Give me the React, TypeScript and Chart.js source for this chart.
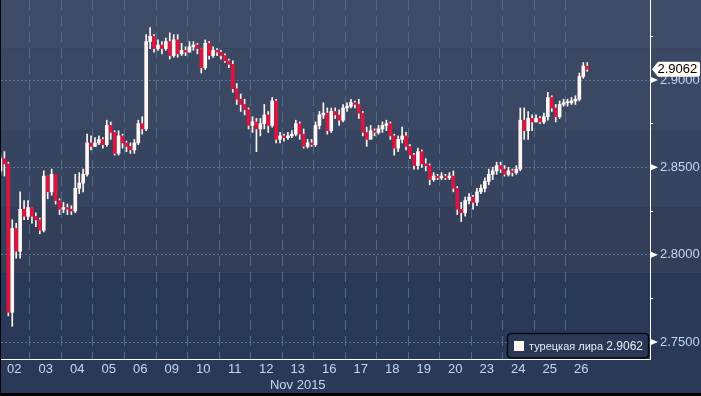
import { useEffect, useRef } from 'react';
import { Chart, registerables } from 'chart.js';

Chart.register(...registerables);

const dayLabels = ['02', '03', '04', '05', '06', '09', '10', '11', '12', '13', '16', '17', '18', '19', '20', '23', '24', '25', '26'];
const monthLabel = 'Nov 2015';
const seriesName = 'турецкая лира';
const lastValue = 2.9062;
const yMajorTicks = [2.75, 2.8, 2.85, 2.9];
const yMinorTicks = [2.775, 2.825, 2.875, 2.925];
const candlesPerDay = 8;
const firstOpen = 2.848;

const closes = [
  2.855, 2.852, 2.767, 2.815, 2.802, 2.826, 2.822, 2.827,
  2.822, 2.820, 2.814, 2.845, 2.836, 2.846, 2.831, 2.826,
  2.827, 2.826, 2.825, 2.838, 2.841, 2.846, 2.864, 2.862,
  2.864, 2.866, 2.863, 2.874, 2.870, 2.858, 2.868, 2.864,
  2.862, 2.860, 2.864, 2.875, 2.872, 2.922, 2.925, 2.918,
  2.920, 2.918, 2.922, 2.914, 2.923, 2.915, 2.917, 2.916,
  2.919, 2.920, 2.918, 2.907, 2.921, 2.914, 2.917, 2.916,
  2.914, 2.911, 2.909, 2.895, 2.889, 2.886, 2.883, 2.874,
  2.876, 2.872, 2.875, 2.880, 2.874, 2.888, 2.866, 2.868,
  2.867, 2.868, 2.869, 2.875, 2.869, 2.862, 2.864, 2.863,
  2.874, 2.880, 2.881, 2.871, 2.882, 2.880, 2.877, 2.884,
  2.885, 2.887, 2.886, 2.881, 2.870, 2.866, 2.871, 2.870,
  2.872, 2.874, 2.875, 2.868, 2.861, 2.866, 2.868, 2.862,
  2.857, 2.851, 2.859, 2.852, 2.851, 2.843, 2.845, 2.844,
  2.845, 2.844, 2.845, 2.838, 2.826, 2.824, 2.831, 2.833,
  2.830, 2.836, 2.838, 2.842, 2.846, 2.848, 2.851, 2.849,
  2.846, 2.848, 2.847, 2.849, 2.877, 2.871, 2.878, 2.876,
  2.878, 2.876, 2.879, 2.890, 2.884, 2.879, 2.886, 2.887,
  2.887, 2.888, 2.889, 2.902, 2.908, 2.9062,
];

const highs = [
  2.857, 2.859, 2.853, 2.820, 2.818, 2.836, 2.831, 2.831,
  2.827, 2.824, 2.821, 2.848, 2.845, 2.849, 2.846, 2.832,
  2.830, 2.829, 2.828, 2.846, 2.847, 2.849, 2.869, 2.868,
  2.867, 2.868, 2.867, 2.877, 2.876, 2.871, 2.871, 2.869,
  2.865, 2.864, 2.866, 2.877, 2.879, 2.926, 2.930, 2.926,
  2.923, 2.922, 2.924, 2.927, 2.926, 2.926, 2.921, 2.919,
  2.922, 2.922, 2.921, 2.918, 2.923, 2.922, 2.919, 2.918,
  2.917, 2.915, 2.912, 2.911, 2.898, 2.892, 2.889, 2.884,
  2.879, 2.878, 2.878, 2.886, 2.882, 2.890, 2.889, 2.870,
  2.869, 2.870, 2.871, 2.877, 2.876, 2.872, 2.866, 2.866,
  2.876, 2.882, 2.887, 2.884, 2.884, 2.884, 2.883, 2.886,
  2.887, 2.889, 2.888, 2.889, 2.882, 2.873, 2.874, 2.872,
  2.874, 2.876, 2.877, 2.876, 2.869, 2.868, 2.873, 2.870,
  2.863, 2.858, 2.861, 2.860, 2.855, 2.852, 2.847, 2.846,
  2.847, 2.846, 2.847, 2.848, 2.839, 2.830, 2.833, 2.835,
  2.834, 2.838, 2.840, 2.844, 2.849, 2.850, 2.853, 2.853,
  2.851, 2.850, 2.849, 2.851, 2.884, 2.884, 2.882, 2.880,
  2.880, 2.879, 2.881, 2.893, 2.891, 2.886, 2.888, 2.889,
  2.889, 2.890, 2.891, 2.904, 2.910, 2.910,
];

const lows = [
  2.846, 2.845, 2.765, 2.759, 2.798, 2.798, 2.820, 2.820,
  2.818, 2.816, 2.812, 2.813, 2.832, 2.834, 2.829, 2.823,
  2.824, 2.823, 2.823, 2.824, 2.835, 2.836, 2.845, 2.860,
  2.862, 2.863, 2.861, 2.862, 2.866, 2.857, 2.857, 2.861,
  2.859, 2.858, 2.858, 2.863, 2.869, 2.871, 2.918, 2.916,
  2.917, 2.915, 2.917, 2.912, 2.913, 2.913, 2.914, 2.914,
  2.916, 2.917, 2.915, 2.904, 2.906, 2.912, 2.913, 2.914,
  2.912, 2.910, 2.907, 2.893, 2.886, 2.882, 2.880, 2.872,
  2.870, 2.859, 2.868, 2.872, 2.870, 2.873, 2.864, 2.864,
  2.865, 2.866, 2.867, 2.868, 2.866, 2.861, 2.861, 2.862,
  2.862, 2.872, 2.878, 2.869, 2.870, 2.878, 2.874, 2.876,
  2.882, 2.884, 2.884, 2.878, 2.868, 2.862, 2.867, 2.868,
  2.869, 2.870, 2.871, 2.866, 2.857, 2.859, 2.864, 2.860,
  2.855, 2.849, 2.849, 2.850, 2.848, 2.840, 2.842, 2.843,
  2.843, 2.843, 2.843, 2.836, 2.823, 2.819, 2.822, 2.829,
  2.826, 2.828, 2.835, 2.836, 2.840, 2.843, 2.846, 2.847,
  2.845, 2.845, 2.845, 2.846, 2.848, 2.866, 2.866, 2.871,
  2.876, 2.875, 2.875, 2.877, 2.882, 2.876, 2.878, 2.885,
  2.885, 2.886, 2.886, 2.888, 2.901, 2.905,
];

const RED = '#e2123e';
const WHITE = '#fff6f2';
const LABEL = '#c2d6f2';
const FONT = '"Liberation Sans", Arial, sans-serif';

const isMajorY = (v: number) => yMajorTicks.some((t) => Math.abs(t - v) < 1e-7);
const isDayBoundary = (v: number) => Math.abs(((v + 0.5) / candlesPerDay) - Math.round((v + 0.5) / candlesPerDay)) < 1e-7;

const bgPlugin = {
  id: 'bgBands',
  beforeDraw(chart: any) {
    const { ctx, width, height } = chart;
    const y = chart.scales.y;
    ctx.save();
    ctx.fillStyle = '#000000';
    ctx.fillRect(0, 0, width, height);
    const cuts = [2.9183, 2.8714, 2.8273, 2.7895].map((v) => y.getPixelForValue(v));
    const edges = [0, ...cuts, 393];
    const colors = ['#3e4c68', '#3a4863', '#36445f', '#333f58', '#2b3958'];
    for (let i = 0; i < colors.length; i++) {
      ctx.fillStyle = colors[i];
      ctx.fillRect(1, edges[i], width - 1, edges[i + 1] - edges[i]);
    }
    ctx.restore();
  },
};

const overlayPlugin = {
  id: 'overlay',
  afterDraw(chart: any) {
    const { ctx, chartArea } = chart;
    const y = chart.scales.y;
    const x = chart.scales.x;
    ctx.save();
    // triangles at major ticks
    ctx.fillStyle = '#ffffff';
    for (const v of yMajorTicks) {
      const py = y.getPixelForValue(v);
      ctx.beginPath();
      ctx.moveTo(chartArea.right + 1, py - 3);
      ctx.lineTo(chartArea.right + 8, py);
      ctx.lineTo(chartArea.right + 1, py + 3);
      ctx.closePath();
      ctx.fill();
    }
    // last value box
    const py = y.getPixelForValue(lastValue);
    const tip = chartArea.right + 2;
    const top = py - 7.5;
    const bot = py + 7.5;
    ctx.beginPath();
    ctx.moveTo(tip, py);
    ctx.lineTo(tip + 6, top);
    ctx.lineTo(698, top);
    ctx.quadraticCurveTo(700, top, 700, top + 2);
    ctx.lineTo(700, bot - 2);
    ctx.quadraticCurveTo(700, bot, 698, bot);
    ctx.lineTo(tip + 6, bot);
    ctx.closePath();
    ctx.fillStyle = '#fffaf6';
    ctx.fill();
    ctx.fillStyle = '#000000';
    ctx.font = `13px ${FONT}`;
    ctx.textBaseline = 'middle';
    ctx.textAlign = 'left';
    ctx.fillText(lastValue.toFixed(4), tip + 5.5, py + 0.5);

    // legend box
    const lx = 507.5, ly = 333.5, lw = 141, lh = 24.5, r = 4;
    ctx.beginPath();
    ctx.moveTo(lx + r, ly);
    ctx.lineTo(lx + lw - r, ly);
    ctx.quadraticCurveTo(lx + lw, ly, lx + lw, ly + r);
    ctx.lineTo(lx + lw, ly + lh - r);
    ctx.quadraticCurveTo(lx + lw, ly + lh, lx + lw - r, ly + lh);
    ctx.lineTo(lx + r, ly + lh);
    ctx.quadraticCurveTo(lx, ly + lh, lx, ly + lh - r);
    ctx.lineTo(lx, ly + r);
    ctx.quadraticCurveTo(lx, ly, lx + r, ly);
    ctx.closePath();
    ctx.fillStyle = '#2a3755';
    ctx.fill();
    ctx.lineWidth = 1.5;
    ctx.strokeStyle = '#080a10';
    ctx.stroke();
    ctx.fillStyle = WHITE;
    ctx.fillRect(514, 341, 10, 10);
    ctx.fillStyle = '#e6ecf6';
    ctx.font = `11px ${FONT}`;
    ctx.textBaseline = 'middle';
    ctx.textAlign = 'left';
    ctx.fillText(seriesName, 529, 346.5);
    ctx.font = `12px ${FONT}`;
    ctx.textAlign = 'right';
    ctx.fillText(lastValue.toFixed(4), 643, 346.5);

    // month label
    ctx.fillStyle = LABEL;
    ctx.font = `13px ${FONT}`;
    ctx.textAlign = 'center';
    ctx.fillText(monthLabel, x.getPixelForValue((dayLabels.length * candlesPerDay) / 2 - 0.5), 385);
    ctx.restore();
  },
};

export default function App() {
  const ref = useRef<HTMLCanvasElement | null>(null);

  useEffect(() => {
    document.body.style.margin = '0';
    const canvas = ref.current;
    if (!canvas) return;

    const opens = closes.map((_, i) => (i === 0 ? firstOpen : closes[i - 1]));
    const bodies = closes.map((c, i) => ({ x: i, y: [opens[i], c] }));
    const wicks = closes.map((_, i) => ({ x: i, y: [lows[i], highs[i]] }));
    const bodyColors = closes.map((c, i) => (c < opens[i] ? RED : WHITE));

    const xTicks: number[] = [];
    for (let d = 0; d < dayLabels.length; d++) {
      if (d > 0) xTicks.push(d * candlesPerDay - 0.5);
      xTicks.push(d * candlesPerDay + candlesPerDay / 2 - 0.5);
    }
    const yTicks = [...yMajorTicks, ...yMinorTicks].sort((a, b) => a - b);

    const chart = new Chart(canvas, {
      type: 'bar',
      data: {
        datasets: [
          {
            label: 'body',
            data: bodies as any,
            backgroundColor: bodyColors,
            borderWidth: 0,
            barThickness: 3,
            minBarLength: 1,
            grouped: false,
            order: 0,
          },
          {
            label: 'wick',
            data: wicks as any,
            backgroundColor: WHITE,
            borderWidth: 0,
            barThickness: 1,
            grouped: false,
            order: 1,
          },
        ],
      },
      plugins: [bgPlugin, overlayPlugin],
      options: {
        animation: false,
        responsive: false,
        devicePixelRatio: 1,
        events: [],
        layout: { padding: { left: 1, top: 0, right: 0, bottom: 0 }, autoPadding: false },
        plugins: { legend: { display: false }, tooltip: { enabled: false } },
        scales: {
          x: {
            type: 'linear',
            min: 0.14,
            max: 164.94,
            offset: false,
            afterBuildTicks: (scale: any) => {
              scale.ticks = xTicks.map((v) => ({ value: v }));
            },
            afterFit: (scale: any) => {
              scale.height = 37;
              scale.paddingLeft = 0;
              scale.paddingRight = 0;
            },
            grid: {
              offset: false,
              drawTicks: false,
              tickLength: 0,
              lineWidth: 1,
              color: (ctx: any) => (ctx.tick && isDayBoundary(ctx.tick.value) ? '#4e6b8a' : 'rgba(0,0,0,0)'),
            },
            border: { display: true, color: '#ffffff', width: 1, dash: [10, 6] },
            ticks: {
              autoSkip: false,
              maxRotation: 0,
              minRotation: 0,
              padding: 3,
              color: LABEL,
              font: { family: FONT, size: 13 },
              callback: (value: any) => {
                const d = (Number(value) + 0.5 - candlesPerDay / 2) / candlesPerDay;
                const r = Math.round(d);
                return Math.abs(d - r) < 1e-7 && dayLabels[r] !== undefined ? dayLabels[r] : '';
              },
            },
          },
          y: {
            position: 'right',
            min: 2.7403,
            max: 2.9458,
            afterBuildTicks: (scale: any) => {
              scale.ticks = yTicks.map((v) => ({ value: v }));
            },
            afterFit: (scale: any) => {
              scale.width = 51;
              scale.paddingTop = 0;
              scale.paddingBottom = 0;
            },
            grid: {
              drawTicks: true,
              tickLength: 3,
              tickWidth: 1,
              lineWidth: 1,
              color: (ctx: any) => (ctx.tick && isMajorY(ctx.tick.value) ? '#5d7896' : 'rgba(0,0,0,0)'),
              tickColor: (ctx: any) => (ctx.tick && !isMajorY(ctx.tick.value) ? '#ffffff' : 'rgba(0,0,0,0)'),
            },
            border: { display: true, color: '#ffffff', width: 1, dash: [2, 2] },
            ticks: {
              padding: 7,
              color: LABEL,
              font: { family: FONT, size: 13 },
              callback: (value: any) => (isMajorY(Number(value)) ? Number(value).toFixed(4) : ''),
            },
          },
        },
      },
    } as any);

    return () => chart.destroy();
  }, []);

  return (
    <div style={{ width: 701, height: 396 }}>
      <canvas ref={ref} width={701} height={396} style={{ display: 'block', width: 701, height: 396 }} />
    </div>
  );
}
